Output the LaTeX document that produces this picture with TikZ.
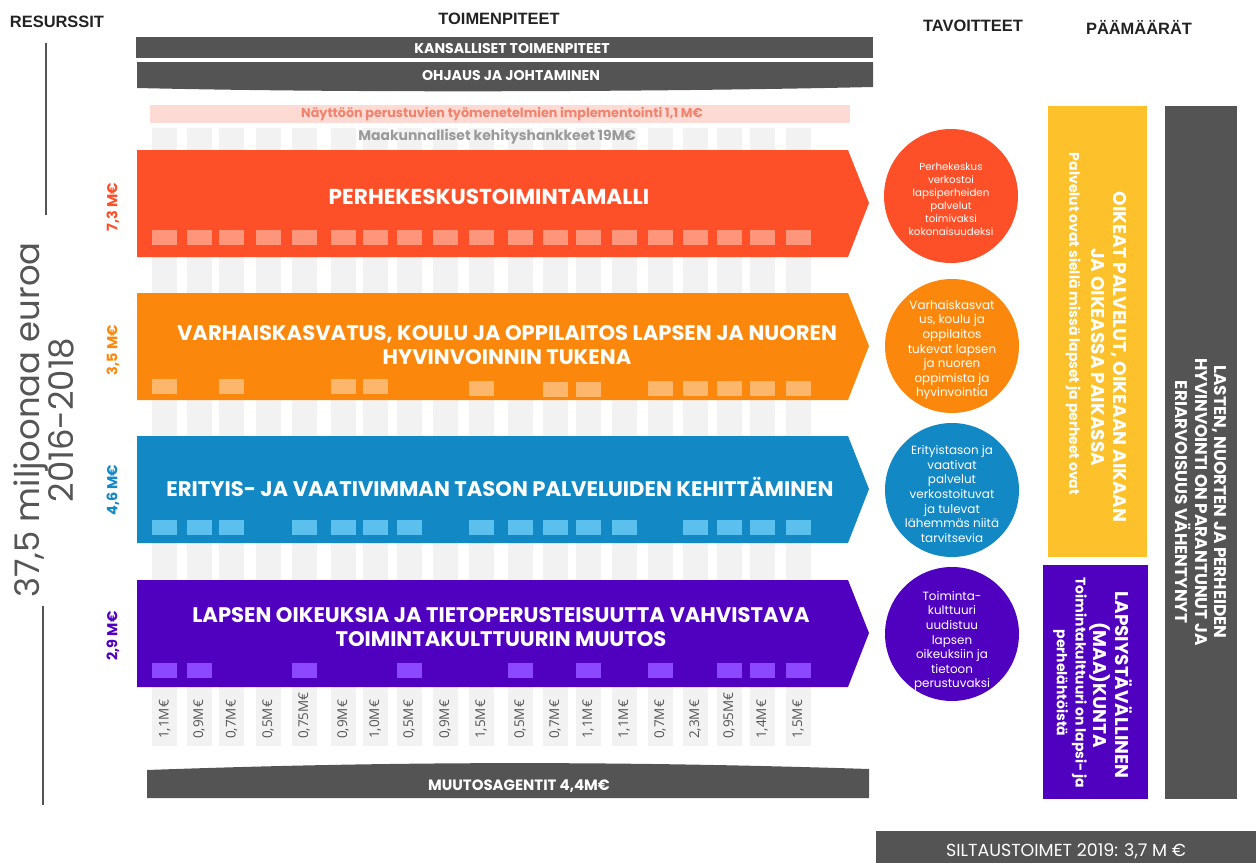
\documentclass[tikz,border=0pt]{standalone}
\usepackage{fontspec}
\setmainfont{Poppins}
\newfontfamily\hdfont{Liberation Sans}
\newfontfamily\numfont{Open Sans}
\definecolor{cred}{HTML}{FD5028}
\definecolor{credl}{HTML}{FD967A}
\definecolor{corange}{HTML}{FB880C}
\definecolor{corangel}{HTML}{FDB76C}
\definecolor{cblue}{HTML}{1288C4}
\definecolor{cbluel}{HTML}{5CC0EE}
\definecolor{cpurple}{HTML}{5000BF}
\definecolor{cpurplel}{HTML}{8C48FF}
\definecolor{cyellow}{HTML}{FDC22B}
\definecolor{dgray}{HTML}{545454}
\definecolor{lgray}{HTML}{F2F2F2}
\definecolor{cpink}{HTML}{FDDAD3}
\definecolor{cpinkt}{HTML}{F0836E}
\definecolor{mgray}{HTML}{9A9A9A}
\definecolor{tdark}{HTML}{222222}
\definecolor{tgray}{HTML}{555555}
\tikzset{
  hdr/.style={font=\hdfont\bfseries\fontsize{16.5}{18}\selectfont, text=tdark, inner sep=0},
  barlabel/.style={font=\bfseries\fontsize{21.2}{24}\selectfont, text=white, align=center, inner sep=0},
  circtext/.style={font=\fontsize{12}{14.6}\selectfont, text=white, align=center, inner sep=0},
  dot/.style={circle, minimum size=134bp, inner sep=0},
  collab/.style={font=\numfont\fontsize{13.5}{15}\selectfont, text=tgray, rotate=90, anchor=west, inner sep=0},
  mlab/.style={font=\bfseries\fontsize{14.5}{16}\selectfont, rotate=90, inner sep=0},
  wbold/.style={font=\bfseries\fontsize{14.2}{16}\selectfont, text=white, inner sep=0},
  vtitle/.style={font=\bfseries\fontsize{18.5}{22}\selectfont, text=white, rotate=-90, align=center, inner sep=0},
  vsub/.style={font=\bfseries\fontsize{14}{19}\selectfont, text=white, rotate=-90, align=center, inner sep=0},
}
\begin{document}
\begin{tikzpicture}[x=1bp,y=-1bp]
\useasboundingbox (0,0) rectangle (1256,863);
\def\colx{{0,164.5,199,231.5,268,304,343,375,409,445,481,520,555,588,624,660,695,729,762,798}}

% headers
\node[hdr] (hres) at (57,22) {RESURSSIT};
\node[hdr] (htoim) at (499,19) {TOIMENPITEET};
\node[hdr] (htav) at (973,26) {TAVOITTEET};
\node[hdr] (hpaa) at (1139,27) {PÄÄMÄÄRÄT};

% left resources
\draw[dgray, line width=2] (46,43) -- (46,215);
\draw[dgray, line width=2] (43,606) -- (43,805);
\node[font=\fontsize{34}{34}\selectfont, text=tgray, rotate=90, align=center, inner sep=0] (total) at (44,420) {37,5 miljoonaa euroa\\2016-2018};
\node[mlab, text=cred] (m1) at (113,207) {7,3 M€};
\node[mlab, text=corange] (m2) at (113,350) {3,5 M€};
\node[mlab, text=cblue] (m3) at (113,490) {4,6 M€};
\node[mlab, text=cpurple] (m4) at (113,636) {2,9 M€};

% top bars
\fill[dgray] (136,37) rectangle (873,58);
\node[wbold] (kans) at (512,49) {KANSALLISET TOIMENPITEET};
\fill[dgray] (137,62) -- (873,62) -- (873,87) .. controls (650,92) and (350,93) .. (137,88) -- cycle;
\node[wbold] (ohj) at (511,76) {OHJAUS JA JOHTAMINEN};
\fill[cpink] (150,105) rectangle (850,123);
\node[font=\bfseries\fontsize{12.8}{14}\selectfont, text=cpinkt, inner sep=0] (nayt) at (502,114) {Näyttöön perustuvien työmenetelmien implementointi 1,1 M€};

% gray columns
\foreach \i in {1,...,19} {
  \pgfmathsetmacro\cx{\colx[\i]}
  \fill[lgray] (\cx-12.5,128) rectangle (\cx+12.5,746);
}
\node[font=\bfseries\fontsize{14}{15}\selectfont, text=mgray, inner sep=0] (maak) at (497,137) {Maakunnalliset kehityshankkeet 19M€};

% arrow bars
\fill[cred] (137,150) -- (848,150) -- (869,203) -- (848,257) -- (137,257) -- cycle;
\fill[corange] (137,293) -- (848,293) -- (869,346) -- (848,400) -- (137,400) -- cycle;
\fill[cblue] (137,436) -- (848,436) -- (869,489) -- (848,543) -- (137,543) -- cycle;
\fill[cpurple] (137,580) -- (848,580) -- (869,633) -- (848,687) -- (137,687) -- cycle;

% squares
\foreach \i in {1,...,19} {
  \pgfmathsetmacro\cx{\colx[\i]}
  \fill[credl] (\cx-12.5,230) rectangle (\cx+12.5,245);
}
\foreach \i/\yy in {1/379,3/379,6/379,7/379,10/381,12/382,13/382,15/381,16/381,17/381,18/381,19/381} {
  \pgfmathsetmacro\cx{\colx[\i]}
  \fill[corangel] (\cx-12.5,\yy) rectangle (\cx+12.5,\yy+15);
}
\foreach \i in {1,2,3,5,6,7,8,10,11,12,13,14,16,17,18,19} {
  \pgfmathsetmacro\cx{\colx[\i]}
  \fill[cbluel] (\cx-12.5,520) rectangle (\cx+12.5,535);
}
\foreach \i in {1,2,5,8,11,13,15,17,18,19} {
  \pgfmathsetmacro\cx{\colx[\i]}
  \fill[cpurplel] (\cx-12.5,663) rectangle (\cx+12.5,678);
}

% bar labels
\node[barlabel, font=\bfseries\fontsize{21.7}{24}\selectfont] (b1) at (489,197) {PERHEKESKUSTOIMINTAMALLI};
\node[barlabel] (b2) at (507,345) {VARHAISKASVATUS, KOULU JA OPPILAITOS LAPSEN JA NUOREN\\HYVINVOINNIN TUKENA};
\node[barlabel] (b3) at (500,487) {ERITYIS- JA VAATIVIMMAN TASON PALVELUIDEN KEHITTÄMINEN};
\node[barlabel] (b4) at (501,627) {LAPSEN OIKEUKSIA JA TIETOPERUSTEISUUTTA VAHVISTAVA\\TOIMINTAKULTTUURIN MUUTOS};

% column labels
\node[collab] (l1) at (164.5,739) {1,1M€};
\node[collab] (l2) at (199,739) {0,9M€};
\node[collab] (l3) at (231.5,739) {0,7M€};
\node[collab] (l4) at (268,739) {0,5M€};
\node[collab] (l5) at (304,739) {0,75M€};
\node[collab] (l6) at (343,739) {0,9M€};
\node[collab] (l7) at (375,739) {1,0M€};
\node[collab] (l8) at (409,739) {0,5M€};
\node[collab] (l9) at (445,739) {0,9M€};
\node[collab] (l10) at (481,739) {1,5M€};
\node[collab] (l11) at (520,739) {0,5M€};
\node[collab] (l12) at (555,739) {0,7M€};
\node[collab] (l13) at (588,739) {1,1M€};
\node[collab] (l14) at (624,739) {1,1M€};
\node[collab] (l15) at (660,739) {0,7M€};
\node[collab] (l16) at (695,739) {2,3M€};
\node[collab] (l17) at (729,739) {0,95M€};
\node[collab] (l18) at (762,739) {1,4M€};
\node[collab] (l19) at (798,739) {1,5M€};

% bottom bar
\fill[dgray] (147,770) .. controls (400,761) and (620,761) .. (869,769) -- (869,798) -- (147,798) -- cycle;
\node[wbold, font=\bfseries\fontsize{15}{16}\selectfont] (muut) at (519,786) {MUUTOSAGENTIT 4,4M€};

% goals circles
\node[dot, fill=cred] (g1) at (951,196) {};
\node[circtext, font=\fontsize{10.3}{13}\selectfont] (g1t) at (951,199) {Perhekeskus\\verkostoi\\lapsiperheiden\\palvelut\\toimivaksi\\kokonaisuudeksi};
\node[dot, fill=corange] (g2) at (952,346) {};
\node[circtext] (g2t) at (952,350) {Varhaiskasvat\\us, koulu ja\\oppilaitos\\tukevat lapsen\\ja nuoren\\oppimista ja\\hyvinvointia};
\node[dot, fill=cblue] (g3) at (952,490) {};
\node[circtext] (g3t) at (952,494) {Erityistason ja\\vaativat\\palvelut\\verkostoituvat\\ja tulevat\\lähemmäs niitä\\tarvitsevia};
\node[dot, fill=cpurple] (g4) at (952,634) {};
\node[circtext] (g4t) at (952,641) {Toiminta-\\kulttuuri\\uudistuu\\lapsen\\oikeuksiin ja\\tietoon\\perustuvaksi};

% aims
\fill[cyellow] (1048,106) rectangle (1147,557);
\node[vtitle] (y1) at (1109,357) {OIKEAT PALVELUT, OIKEAAN AIKAAN\\JA OIKEASSA PAIKASSA};
\node[vsub] (y2) at (1073,324) {Palvelut ovat siellä missä lapset ja perheet ovat};
\fill[cpurple] (1043,565) rectangle (1148,799);
\node[vtitle] (p1) at (1111,685) {LAPSIYSTÄVÄLLINEN\\(MAA)KUNTA};
\node[vsub] (p2) at (1070,683) {Toimintakulttuuri on lapsi- ja\\perhelähtöistä};
\fill[dgray] (1165,106) rectangle (1237,799);
\node[vtitle, font=\bfseries\fontsize{17}{19.5}\selectfont] (d1) at (1201,502) {LASTEN, NUORTEN JA PERHEIDEN\\HYVINVOINTI ON PARANTUNUT JA\\ERIARVOISUUS VÄHENTYNYT};

% bridge
\fill[dgray] (876,831) rectangle (1256,863);
\node[font=\fontsize{17.5}{18}\selectfont, text=white, inner sep=0] (silt) at (1066,851) {SILTAUSTOIMET 2019: 3,7 M €};
\end{tikzpicture}
\end{document}
